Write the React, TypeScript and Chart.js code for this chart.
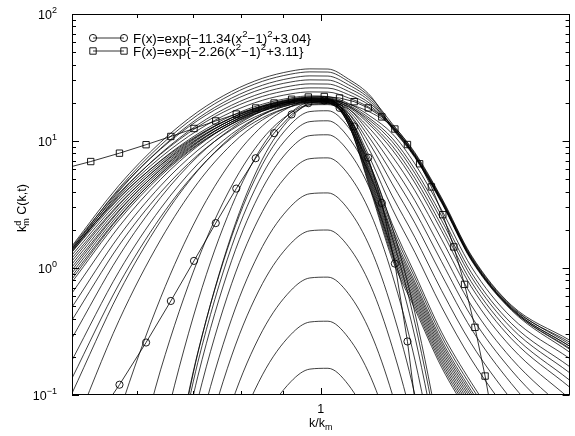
import React, { useEffect, useRef } from "react";
import { Chart, registerables } from "chart.js";

Chart.register(...registerables);

const FONT = '"Liberation Sans", Arial, Helvetica, sans-serif';

// shared k/k_m grid for the family of C(k,t) curves
const X_GRID = [0.5, 0.57, 0.64, 0.71, 0.78, 0.85, 0.92, 0.97, 1.02, 1.08, 1.15, 1.22, 1.3, 1.4, 1.52, 1.7, 2.0];

// early-time curves (growing peak)
const E1 = [0.001, 0.001, 0.001, 0.00204, 0.01656, 0.0614, 0.1274, 0.1599, 0.1623, 0.1202, 0.0582, 0.01954, 0.00414, 0.001, 0.001, 0.001, 0.001];
const E2 = [0.001, 0.001, 0.001, 0.00479, 0.0389, 0.1442, 0.2995, 0.3755, 0.3811, 0.2825, 0.1368, 0.0459, 0.00973, 0.001, 0.001, 0.001, 0.001];
const E3 = [0.001, 0.001, 0.001, 0.01064, 0.0865, 0.3206, 0.6657, 0.835, 0.8474, 0.628, 0.3041, 0.1021, 0.02163, 0.00189, 0.001, 0.001, 0.001];
const E4 = [0.001, 0.001, 0.00114, 0.025, 0.2032, 0.7534, 1.564, 1.962, 1.991, 1.476, 0.7145, 0.2399, 0.0508, 0.00445, 0.001, 0.001, 0.001];
const E5 = [0.001, 0.001, 0.00223, 0.049, 0.398, 1.476, 3.064, 3.843, 3.9, 2.891, 1.4, 0.47, 0.0995, 0.0087, 0.001, 0.001, 0.001];
const E6 = [0.001, 0.001, 0.0042, 0.0925, 0.7516, 2.786, 5.785, 7.256, 7.363, 5.458, 2.642, 0.8872, 0.188, 0.01644, 0.001, 0.001, 0.001];
const E7 = [0.001, 0.001, 0.0064, 0.1406, 1.143, 4.236, 8.8, 11.03, 11.19, 8.299, 4.018, 1.349, 0.2858, 0.025, 0.001, 0.001, 0.001];
const E8 = [0.001, 0.001, 0.00824, 0.1811, 1.472, 5.458, 11.33, 14.21, 14.42, 10.69, 5.176, 1.738, 0.368, 0.0322, 0.00115, 0.001, 0.001];
const E9 = [0.001, 0.001, 0.00989, 0.2173, 1.766, 6.546, 13.59, 17.05, 17.3, 12.82, 6.209, 2.084, 0.4416, 0.0386, 0.00137, 0.001, 0.001];

// intermediate curves (peak ~21, steep right side)
const M1 = [0.001, 0.001, 0.00883, 0.214, 1.835, 7.21, 15.31, 19.35, 19.69, 15.81, 6.223, 2.225, 0.897, 0.3126, 0.126, 0.0423, 0.00825];
const M2 = [0.001, 0.00113, 0.0423, 0.546, 3.052, 9.155, 16.75, 20.21, 20.42, 15.75, 5.914, 2.069, 0.834, 0.2905, 0.1171, 0.0394, 0.00767];
const M3 = [0.001, 0.00942, 0.1578, 1.157, 4.422, 10.39, 16.64, 19.26, 19.34, 15.0, 5.62, 1.924, 0.775, 0.2702, 0.1089, 0.0366, 0.00713];
const M4 = [0.00369, 0.0712, 0.582, 2.563, 6.96, 13.16, 18.68, 20.83, 20.8, 15.31, 5.409, 1.822, 0.734, 0.2559, 0.1031, 0.0347, 0.00675];
const M5 = [0.0492, 0.3866, 1.669, 4.692, 9.408, 14.67, 18.71, 20.19, 20.06, 14.79, 5.208, 1.725, 0.695, 0.2423, 0.0976, 0.0328, 0.00639];
const M6 = [0.1031, 0.6406, 2.341, 5.856, 10.85, 16.08, 19.96, 21.35, 21.18, 14.95, 5.013, 1.633, 0.658, 0.2294, 0.0925, 0.0311, 0.00606];
const M7 = [0.1355, 0.7473, 2.517, 5.925, 10.55, 15.24, 18.65, 19.86, 19.69, 14.18, 4.826, 1.547, 0.6234, 0.2173, 0.0876, 0.0294, 0.00573];
const M8 = [0.1879, 0.9401, 2.943, 6.596, 11.36, 16.06, 19.42, 20.61, 20.42, 14.2, 4.644, 1.465, 0.5903, 0.2057, 0.0829, 0.0279, 0.00543];
const M9 = [0.2802, 1.245, 3.587, 7.578, 12.54, 17.29, 20.62, 21.78, 21.57, 14.36, 4.471, 1.387, 0.5591, 0.1949, 0.0785, 0.0264, 0.00514];
const M10 = [0.3887, 1.506, 3.938, 7.769, 12.27, 16.43, 19.28, 20.27, 20.06, 13.62, 4.303, 1.314, 0.5294, 0.1845, 0.0743, 0.025, 0.00487];
const M11 = [0.4922, 1.782, 4.437, 8.457, 13.06, 17.22, 20.05, 21.03, 20.8, 13.65, 4.142, 1.244, 0.5013, 0.1747, 0.0704, 0.0237, 0.00461];
const M12 = [0.6348, 2.118, 4.986, 9.125, 13.71, 17.77, 20.49, 21.42, 21.18, 13.55, 3.987, 1.178, 0.4747, 0.1654, 0.0667, 0.0224, 0.00437];

// late curves (broad, with long right tails)
const L1 = [0.7752, 2.389, 5.303, 9.322, 13.62, 17.36, 19.83, 20.67, 20.42, 15.81, 7.042, 2.94, 1.324, 0.4941, 0.1919, 0.068, 0.01743];
const L2 = [0.8187, 2.506, 5.541, 9.71, 14.16, 18.02, 20.57, 21.43, 21.18, 16.59, 8.055, 3.701, 1.738, 0.6656, 0.255, 0.0922, 0.0262];
const L3 = [0.8647, 2.549, 5.489, 9.443, 13.6, 17.17, 19.51, 20.3, 20.06, 16.62, 9.155, 4.608, 2.252, 0.8843, 0.3343, 0.1232, 0.0387];
const L4 = [0.9131, 2.676, 5.735, 9.835, 14.14, 17.82, 20.24, 21.05, 20.8, 17.33, 10.19, 5.539, 2.8, 1.123, 0.4196, 0.157, 0.0536];
const L5 = [0.9643, 2.808, 5.993, 10.24, 14.7, 18.5, 20.99, 21.83, 21.57, 18.03, 11.19, 6.506, 3.387, 1.383, 0.5118, 0.1942, 0.0713];
const L6 = [1.018, 2.857, 5.939, 9.963, 14.11, 17.62, 19.91, 20.68, 20.42, 17.89, 12.23, 7.578, 4.056, 1.685, 0.6179, 0.2377, 0.0935];
const L7 = [1.075, 2.998, 6.205, 10.38, 14.67, 18.29, 20.65, 21.44, 21.18, 18.51, 13.11, 8.538, 4.67, 1.966, 0.7158, 0.2782, 0.1154];
const L8 = [1.136, 3.146, 6.484, 10.81, 15.25, 18.98, 21.42, 22.24, 21.97, 19.02, 13.66, 9.167, 5.079, 2.156, 0.7814, 0.3056, 0.1309];
const L9 = [1.199, 3.201, 6.424, 10.51, 14.64, 18.09, 20.32, 21.07, 20.8, 18.7, 14.28, 9.883, 5.552, 2.376, 0.8574, 0.3375, 0.1497];
const L10 = [1.266, 3.36, 6.713, 10.95, 15.22, 18.77, 21.08, 21.85, 21.57, 19.2, 14.81, 10.52, 5.978, 2.577, 0.9265, 0.3667, 0.1673];
const L11 = [1.337, 3.526, 7.015, 11.4, 15.82, 19.49, 21.86, 22.66, 22.37, 19.77, 15.54, 11.44, 6.6, 2.872, 1.027, 0.4096, 0.194];
const L12 = [1.413, 3.587, 6.95, 11.09, 15.19, 18.57, 20.73, 21.46, 21.18, 19.55, 16.73, 12.97, 7.656, 3.379, 1.199, 0.4833, 0.2423];

// highest-peak curves
const T1 = [1.387, 3.702, 7.43, 12.16, 16.93, 20.92, 23.5, 24.36, 24.28, 21.85, 18.05, 13.45, 7.94, 3.504, 1.244, 0.5013, 0.2513];
const T2 = [1.438, 3.887, 7.87, 12.96, 18.13, 22.45, 25.26, 26.2, 26.11, 23.19, 18.75, 12.74, 7.518, 3.318, 1.178, 0.4747, 0.2294];
const T3 = [1.337, 3.799, 7.967, 13.45, 19.13, 23.95, 27.1, 28.17, 28.08, 24.62, 19.47, 13.21, 7.796, 3.441, 1.221, 0.4922, 0.2606];
const T4 = [1.465, 4.134, 8.63, 14.53, 20.62, 25.78, 29.16, 30.29, 30.19, 26.13, 20.22, 12.51, 7.383, 3.258, 1.157, 0.4661, 0.2173];
const T5 = [1.362, 4.04, 8.74, 15.08, 21.76, 27.5, 31.29, 32.56, 32.46, 27.73, 21.0, 12.97, 7.656, 3.379, 1.199, 0.4833, 0.2423];
const T6 = [1.413, 4.242, 9.259, 16.07, 23.3, 29.52, 33.63, 35.02, 34.91, 29.43, 21.8, 13.69, 8.085, 3.568, 1.266, 0.5105, 0.2702];
const T7 = [1.491, 4.48, 9.777, 16.98, 24.6, 31.17, 35.51, 36.98, 36.87, 30.77, 22.43, 12.74, 7.518, 3.318, 1.178, 0.4747, 0.2336];

// fitted functions (circles / squares)
const FIT1_X = [0.5268, 0.5707, 0.6146, 0.6585, 0.7024, 0.7463, 0.7902, 0.8341, 0.878, 0.9219, 0.9658, 1.0097, 1.0536, 1.0975, 1.1414, 1.1853, 1.2292, 1.2731, 1.317];
const FIT1_Y = [0.0562, 0.1205, 0.259, 0.55, 1.138, 2.257, 4.22, 7.32, 11.53, 16.19, 19.86, 20.82, 18.22, 13.01, 7.39, 3.25, 1.083, 0.264, 0.046];
const FIT2_X = [0.4829, 0.5268, 0.5707, 0.6146, 0.6585, 0.7024, 0.7463, 0.7902, 0.8341, 0.878, 0.9219, 0.9658, 1.0097, 1.0536, 1.0975, 1.1414, 1.1853, 1.2292, 1.2731, 1.317, 1.3609, 1.4048, 1.4487, 1.4926, 1.5365, 1.5804, 1.6243];
const FIT2_Y = [5.94, 6.89, 8.02, 9.35, 10.86, 12.55, 14.39, 16.3, 18.19, 19.91, 21.31, 22.19, 22.4, 21.82, 20.4, 18.22, 15.48, 12.43, 9.38, 6.62, 4.35, 2.63, 1.465, 0.743, 0.341, 0.141, 0.052];

// axes
const Y_MAJOR = [0.1, 1, 10, 100];
const Y_EXP = ["\u22121", "0", "1", "2"];
const X_MINOR = [0.6, 0.7, 0.8, 0.9];
const X_MAJOR = [1];
const X_LABELS = ["1"];

type Part = [string, number];
const LEGEND_1: Part[] = [["F(x)=exp{\u221211.34(x", 0], ["2", 1], ["\u22121)", 0], ["2", 1], ["+3.04}", 0]];
const LEGEND_2: Part[] = [["F(x)=exp{\u22122.26(x", 0], ["2", 1], ["\u22121)", 0], ["2", 1], ["+3.11}", 0]];
const Y_TITLE: Part[] = [["k", 0], ["m|d", 2], [" C(k,t)", 0]];
const X_TITLE: Part[] = [["k/k", 0], ["m", -1]];

function fontOf(size: number) {
  return `${size}px ${FONT}`;
}

function measureRich(ctx: CanvasRenderingContext2D, parts: Part[], size: number) {
  let w = 0;
  const small = size * 0.72;
  for (const [t, k] of parts) {
    if (k === 2) {
      const [a, b] = t.split("|");
      ctx.font = fontOf(small);
      w += Math.max(ctx.measureText(a).width, ctx.measureText(b).width);
    } else {
      ctx.font = fontOf(k === 0 ? size : small);
      w += ctx.measureText(t).width;
    }
  }
  return w;
}

function drawRich(ctx: CanvasRenderingContext2D, x: number, y: number, parts: Part[], size: number, align: string) {
  const w = measureRich(ctx, parts, size);
  let cx = align === "center" ? x - w / 2 : align === "right" ? x - w : x;
  const small = size * 0.72;
  ctx.textAlign = "left";
  ctx.textBaseline = "alphabetic";
  for (const [t, k] of parts) {
    if (k === 0) {
      ctx.font = fontOf(size);
      ctx.fillText(t, cx, y);
      cx += ctx.measureText(t).width;
    } else if (k === 1) {
      ctx.font = fontOf(small);
      ctx.fillText(t, cx, y - size * 0.42);
      cx += ctx.measureText(t).width;
    } else if (k === -1) {
      ctx.font = fontOf(small);
      ctx.fillText(t, cx, y + size * 0.25);
      cx += ctx.measureText(t).width;
    } else {
      const [a, b] = t.split("|");
      ctx.font = fontOf(small);
      ctx.fillText(a, cx, y + size * 0.25);
      ctx.fillText(b, cx, y - size * 0.42);
      cx += Math.max(ctx.measureText(a).width, ctx.measureText(b).width);
    }
  }
}

const framePlugin = {
  id: "gnuframe",
  beforeDraw(chart: any) {
    const ctx = chart.ctx;
    ctx.save();
    ctx.fillStyle = "#fff";
    ctx.fillRect(0, 0, chart.width, chart.height);
    ctx.restore();
  },
  afterDraw(chart: any) {
    const { ctx, chartArea: a, scales } = chart;
    const xs = scales.x;
    const ys = scales.y;
    ctx.save();
    ctx.strokeStyle = "#000";
    ctx.lineWidth = 1;
    ctx.strokeRect(Math.round(a.left) + 0.5, Math.round(a.top) + 0.5, Math.round(a.right - a.left) - 1, Math.round(a.bottom - a.top) - 1);

    // y ticks, both sides
    ctx.beginPath();
    for (let d = 0; d < Y_MAJOR.length - 1; d++) {
      for (let m = 1; m <= 9; m++) {
        const v = Y_MAJOR[d] * m;
        const py = Math.round(ys.getPixelForValue(v)) + 0.5;
        const len = m === 1 ? 7 : 4;
        ctx.moveTo(a.left, py);
        ctx.lineTo(a.left + len, py);
        ctx.moveTo(a.right, py);
        ctx.lineTo(a.right - len, py);
      }
    }
    // x ticks, bottom and top
    for (const v of X_MINOR) {
      const px = Math.round(xs.getPixelForValue(v)) + 0.5;
      ctx.moveTo(px, a.bottom);
      ctx.lineTo(px, a.bottom - 4);
      ctx.moveTo(px, a.top);
      ctx.lineTo(px, a.top + 4);
    }
    for (const v of X_MAJOR) {
      const px = Math.round(xs.getPixelForValue(v)) + 0.5;
      ctx.moveTo(px, a.bottom);
      ctx.lineTo(px, a.bottom - 7);
      ctx.moveTo(px, a.top);
      ctx.lineTo(px, a.top + 7);
    }
    ctx.stroke();

    ctx.fillStyle = "#000";
    // y tick labels
    Y_MAJOR.forEach((v, i) => {
      const py = ys.getPixelForValue(v);
      drawRich(ctx, 57, py + 4.5, [["10", 0], [Y_EXP[i], 1]], 12.5, "right");
    });
    // x tick labels
    X_MAJOR.forEach((v, i) => {
      const px = xs.getPixelForValue(v);
      drawRich(ctx, px, 413, [[X_LABELS[i], 0]], 12.5, "center");
    });
    // axis titles
    drawRich(ctx, (a.left + a.right) / 2, 427, X_TITLE, 12.5, "center");
    ctx.save();
    ctx.translate(26, 208);
    ctx.rotate(-Math.PI / 2);
    drawRich(ctx, 0, 0, Y_TITLE, 12.5, "center");
    ctx.restore();

    // legend
    const rows: [Part[], string, number][] = [
      [LEGEND_1, "circle", 38],
      [LEGEND_2, "rect", 51],
    ];
    for (const [parts, style, y] of rows) {
      ctx.strokeStyle = "#000";
      ctx.lineWidth = 0.8;
      ctx.beginPath();
      ctx.moveTo(93, y);
      ctx.lineTo(124, y);
      ctx.stroke();
      ctx.lineWidth = 0.9;
      for (const mx of [93, 124]) {
        ctx.beginPath();
        if (style === "circle") {
          ctx.arc(mx, y, 3.6, 0, Math.PI * 2);
        } else {
          ctx.rect(mx - 3.2, y - 3.2, 6.4, 6.4);
        }
        ctx.stroke();
      }
      drawRich(ctx, 133, y + 4.6, parts, 13.4, "left");
    }
    ctx.restore();
  },
};

export default function App() {
  const ref = useRef<HTMLCanvasElement>(null);

  useEffect(() => {
    const canvas = ref.current;
    if (!canvas) return;
    const curves = [
      E1, E2, E3, E4, E5, E6, E7, E8, E9,
      M1, M2, M3, M4, M5, M6, M7, M8, M9, M10, M11, M12,
      L1, L2, L3, L4, L5, L6, L7, L8, L9, L10, L11, L12,
      T1, T2, T3, T4, T5, T6, T7,
    ];
    const datasets: any[] = [
      {
        label: "fit1",
        data: FIT1_X.map((x, i) => ({ x, y: FIT1_Y[i] })),
        borderColor: "#000",
        borderWidth: 0.8,
        pointStyle: "circle",
        pointRadius: 3.6,
        pointBorderWidth: 0.9,
        pointBorderColor: "#000",
        pointBackgroundColor: "rgba(0,0,0,0)",
        tension: 0,
        order: 0,
      },
      {
        label: "fit2",
        data: FIT2_X.map((x, i) => ({ x, y: FIT2_Y[i] })),
        borderColor: "#000",
        borderWidth: 0.8,
        pointStyle: "rect",
        pointRadius: 4.5,
        pointBorderWidth: 0.9,
        pointBorderColor: "#000",
        pointBackgroundColor: "rgba(0,0,0,0)",
        tension: 0,
        order: 0,
      },
      ...curves.map((arr, i) => ({
        label: `C${i}`,
        data: X_GRID.map((x, j) => ({ x, y: arr[j] })),
        borderColor: "#000",
        borderWidth: 0.75,
        pointRadius: 0,
        cubicInterpolationMode: "monotone",
        fill: false,
        order: 1,
      })),
    ];
    const chart = new Chart(canvas, {
      type: "line",
      data: { datasets },
      options: {
        responsive: false,
        animation: false,
        devicePixelRatio: 1,
        events: [],
        layout: { padding: { left: 72, right: 4, top: 14, bottom: 41 } },
        scales: {
          x: { type: "logarithmic", min: 0.5, max: 2, display: false },
          y: { type: "logarithmic", min: 0.1, max: 100, display: false },
        },
        plugins: { legend: { display: false }, tooltip: { enabled: false } },
      },
      plugins: [framePlugin],
    } as any);
    return () => chart.destroy();
  }, []);

  return (
    <div style={{ position: "absolute", left: 0, top: 0, width: 575, height: 436 }}>
      <canvas ref={ref} width={575} height={436} style={{ display: "block" }} />
    </div>
  );
}
